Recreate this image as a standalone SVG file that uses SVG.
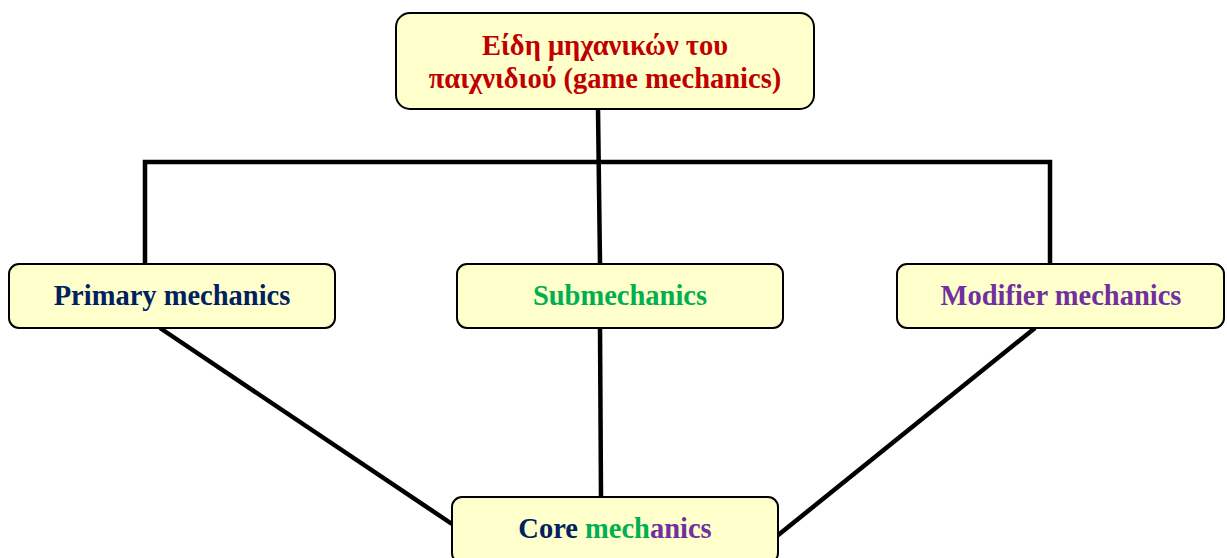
<svg xmlns="http://www.w3.org/2000/svg" width="1227" height="558" viewBox="0 0 1227 558">
<style>
.box{fill:#FFFFCC;stroke:#000;stroke-width:2}
.t{font-family:"Liberation Serif","Times New Roman",serif;font-weight:bold;font-size:28.5px;text-anchor:middle}
.c{stroke:#000;stroke-width:4.5;fill:none}
</style>
<rect width="1227" height="558" fill="#fff"/>
<g id="connectors">
<polyline class="c" points="145,264 145,162 1050,162 1050,264"/>
<line class="c" x1="598" y1="109" x2="600" y2="264"/>
<line class="c" x1="160" y1="328" x2="452" y2="524"/>
<line class="c" x1="600" y1="328" x2="601" y2="497"/>
<line class="c" x1="1035" y1="328" x2="777" y2="536"/>
</g>
<g id="top">
<rect class="box" x="396" y="13" width="418" height="96" rx="14"/>
<text class="t" x="605" y="55" fill="#C00000">Είδη μηχανικών του</text>
<text class="t" x="605" y="88" fill="#C00000">παιχνιδιού (game mechanics)</text>
</g>
<g id="primary">
<rect class="box" x="9" y="264" width="326" height="64" rx="10"/>
<text class="t" x="172" y="305" fill="#002060">Primary mechanics</text>
</g>
<g id="sub">
<rect class="box" x="457" y="264" width="326" height="64" rx="10"/>
<text class="t" x="620" y="305" fill="#00B050">Submechanics</text>
</g>
<g id="modifier">
<rect class="box" x="897" y="264" width="327" height="64" rx="10"/>
<text class="t" x="1061" y="305" fill="#7030A0">Modifier mechanics</text>
</g>
<g id="core">
<rect class="box" x="452" y="497" width="326" height="66" rx="10"/>
<text class="t" x="615" y="538"><tspan fill="#002060">Core </tspan><tspan fill="#00B050">mech</tspan><tspan fill="#7030A0">anics</tspan></text>
</g>
</svg>
